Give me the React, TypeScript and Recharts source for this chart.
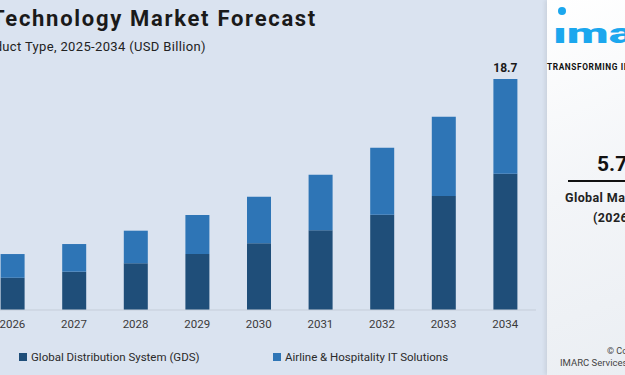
import React from 'react'
import { BarChart, Bar, XAxis, YAxis, LabelList } from 'recharts';

const years = ['2025', '2026', '2027', '2028', '2029', '2030', '2031', '2032', '2033', '2034'];
const gds = [2.2, 2.61, 3.1, 3.78, 4.53, 5.4, 6.45, 7.72, 9.23, 11.03];
const airline = [1.6, 1.92, 2.24, 2.64, 3.16, 3.77, 4.5, 5.42, 6.42, 7.67];
const topLabels = ['', '', '', '', '', '', '', '', '', '18.7'];

const series = [
    { key: 'gds', name: 'Global Distribution System (GDS)', color: '#1f4e79' },
    { key: 'airline', name: 'Airline & Hospitality IT Solutions', color: '#2e75b6' },
];

const data = years.map((year, i) => ({
    year,
    gds: gds[i],
    airline: airline[i],
    label: topLabels[i],
}));

const font = 'Roboto, "Noto Sans", sans-serif';

const App = () => {
    return (
        <div style={{ position: 'absolute', left: 0, top: 0, width: 625, height: 375, overflow: 'hidden', background: '#dae3f0', fontFamily: font }}>
            <div style={{ position: 'absolute', right: 308, top: 6, whiteSpace: 'nowrap', fontSize: 22, fontWeight: 700, color: '#1a1a1a', letterSpacing: 1.7 }}>
                Travel Technology Market Forecast
            </div>
            <div style={{ position: 'absolute', right: 419, top: 39, whiteSpace: 'nowrap', fontSize: 13, color: '#222', letterSpacing: 0.35 }}>
                Market Breakup by Product Type, 2025-2034 (USD Billion)
            </div>

            <div style={{ position: 'absolute', left: -80, top: 0 }}>
                <BarChart width={616} height={340} data={data} margin={{ top: 62.94, right: 0, left: 0, bottom: 0 }} barSize={24}>
                    <XAxis dataKey="year" axisLine={{ stroke: '#c5cdd9' }} tickLine={false} tickSize={8} height={30}
                        tick={{ fill: '#3a3a3a', fontSize: 11.5, fontFamily: font }} />
                    <YAxis hide domain={[0, 20]} />
                    <Bar dataKey="gds" stackId="a" fill={series[0].color} isAnimationActive={false} />
                    <Bar dataKey="airline" stackId="a" fill={series[1].color} isAnimationActive={false}>
                        <LabelList dataKey="label" position="top" offset={7} fill="#1a1a1a" fontSize={12} fontWeight={700} fontFamily={font} />
                    </Bar>
                </BarChart>
            </div>

            {series.map((s, i) => (
                <div key={s.key} style={{ position: 'absolute', left: i === 0 ? 19 : 273, top: 350, display: 'flex', alignItems: 'center', whiteSpace: 'nowrap', fontSize: 11.5, color: '#2a2a2a' }}>
                    <span style={{ width: 8, height: 8, background: s.color, marginRight: 4, display: 'inline-block' }} />
                    {s.name}
                </div>
            ))}

            {/* right side brand panel */}
            <div style={{ position: 'absolute', left: 547, top: 0, width: 200, height: 375, background: 'linear-gradient(160deg, #ffffff 0%, #f3f5f8 45%, #e9edf2 100%)', boxShadow: '-2px 0 4px rgba(0,0,0,0.08)' }}>
                <div style={{ position: 'absolute', left: 11, top: 7, width: 8, height: 8, borderRadius: 4, background: '#1ba7ee' }} />
                <div style={{ position: 'absolute', left: 6, top: 21, fontSize: 27, fontWeight: 900, color: '#1ba7ee', lineHeight: 1, transform: 'scaleX(1.8)', transformOrigin: 'left', whiteSpace: 'nowrap' }}>ımarc</div>
                <div style={{ position: 'absolute', left: 0, top: 62, fontSize: 8.3, fontWeight: 700, color: '#111', whiteSpace: 'nowrap', letterSpacing: 0.6 }}>TRANSFORMING IDEAS INTO IMPACT</div>
                <div style={{ position: 'absolute', left: 50, top: 152, fontSize: 21, fontWeight: 700, color: '#111', whiteSpace: 'nowrap' }}>5.73 Billion</div>
                <div style={{ position: 'absolute', left: 21, top: 180, width: 150, height: 2, background: '#111' }} />
                <div style={{ position: 'absolute', left: 18, top: 190, fontSize: 12.5, fontWeight: 700, color: '#222', whiteSpace: 'nowrap', letterSpacing: 0.4 }}>Global Market Size</div>
                <div style={{ position: 'absolute', left: 46, top: 210, fontSize: 12.5, fontWeight: 700, color: '#222', whiteSpace: 'nowrap', letterSpacing: 0.4 }}>(2026)</div>
                <div style={{ position: 'absolute', left: 60, top: 346, fontSize: 9, color: '#444', whiteSpace: 'nowrap' }}>© Copyright</div>
                <div style={{ position: 'absolute', left: 13, top: 357, fontSize: 9.5, color: '#444', whiteSpace: 'nowrap' }}>IMARC Services Pvt. Ltd.</div>
            </div>
        </div>
    );
}

export default App
